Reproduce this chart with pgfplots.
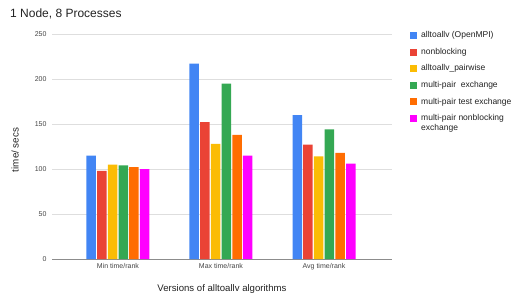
\documentclass[border=0pt]{standalone}
\usepackage{pgfplots}
\pgfplotsset{compat=1.18}
\usepackage{fontspec}
\setmainfont{Liberation Sans}
\definecolor{gblue}{HTML}{4285F4}
\definecolor{gred}{HTML}{EA4335}
\definecolor{gyellow}{HTML}{FBBC04}
\definecolor{ggreen}{HTML}{34A853}
\definecolor{gorange}{HTML}{FF6D01}
\definecolor{gmagenta}{HTML}{FF00FF}
\definecolor{txt}{HTML}{222222}
\definecolor{tick}{HTML}{444444}
\begin{document}
\begin{tikzpicture}
\path[use as bounding box] (0,0) rectangle (524pt,298pt);
\node[anchor=west, font=\fontsize{12}{14}\selectfont, text=txt, inner sep=0pt] at (10pt,284pt) {1 Node, 8 Processes};
\node[rotate=90, font=\fontsize{9.8}{11}\selectfont, text=txt, inner sep=0pt] at (15pt,148pt) {time/ secs};
\node[font=\fontsize{9.6}{11}\selectfont, text=txt, inner sep=0pt] at (222pt,9pt) {Versions of alltoallv algorithms};
\begin{axis}[
  at={(52pt,39pt)}, anchor=south west,
  scale only axis, width=340pt, height=225pt,
  ybar=1.2pt, bar width=9.5pt,
  xmin=-0.64, xmax=2.66, ymin=0, ymax=250,
  xtick={0,1,2}, xticklabels={Min time/rank, Max time/rank, Avg time/rank},
  ytick={0,50,...,250},
  ymajorgrids, grid style={draw=black!13, line width=0.6pt},
  extra y ticks={0}, extra y tick labels={},
  extra y tick style={grid style={draw=black!45, line width=0.8pt}},
  axis line style={draw=none},
  major tick length=0pt,
  /pgf/number format/assume math mode=true,
  tick label style={font=\fontsize{7}{8}\selectfont, text=tick},
  yticklabel style={xshift=-2pt},
  xticklabel style={yshift=-0.5pt},
  legend style={draw=none, at={(1,1)}, anchor=north west, xshift=15pt, yshift=6.5pt,
    font=\fontsize{8.5}{10}\selectfont, text=txt, row sep=4.9pt,
    cells={align=left}},
  legend cell align=left,
  legend image code/.code={\fill[#1,draw=none] (0pt,-3.5pt) rectangle (7pt,3.5pt); \path (9pt,0pt);},
]
\addplot[fill=gblue, draw=none] coordinates {(0,115) (1,217) (2,160)};
\addlegendentry{alltoallv (OpenMPI)}
\addplot[fill=gred, draw=none] coordinates {(0,98) (1,152) (2,127)};
\addlegendentry{nonblocking}
\addplot[fill=gyellow, draw=none] coordinates {(0,105) (1,128) (2,114)};
\addlegendentry{alltoallv\_pairwise}
\addplot[fill=ggreen, draw=none] coordinates {(0,104) (1,195) (2,144)};
\addlegendentry{multi-pair\ \ exchange}
\addplot[fill=gorange, draw=none] coordinates {(0,102) (1,138) (2,118)};
\addlegendentry{multi-pair test exchange}
\addplot[fill=gmagenta, draw=none, legend image code/.code={\fill[gmagenta] (0pt,1.5pt) rectangle (7pt,8.5pt); \path (9pt,0pt);}] coordinates {(0,100) (1,115) (2,106)};
\addlegendentry{multi-pair nonblocking\\exchange}
\end{axis}
\end{tikzpicture}
\end{document}
